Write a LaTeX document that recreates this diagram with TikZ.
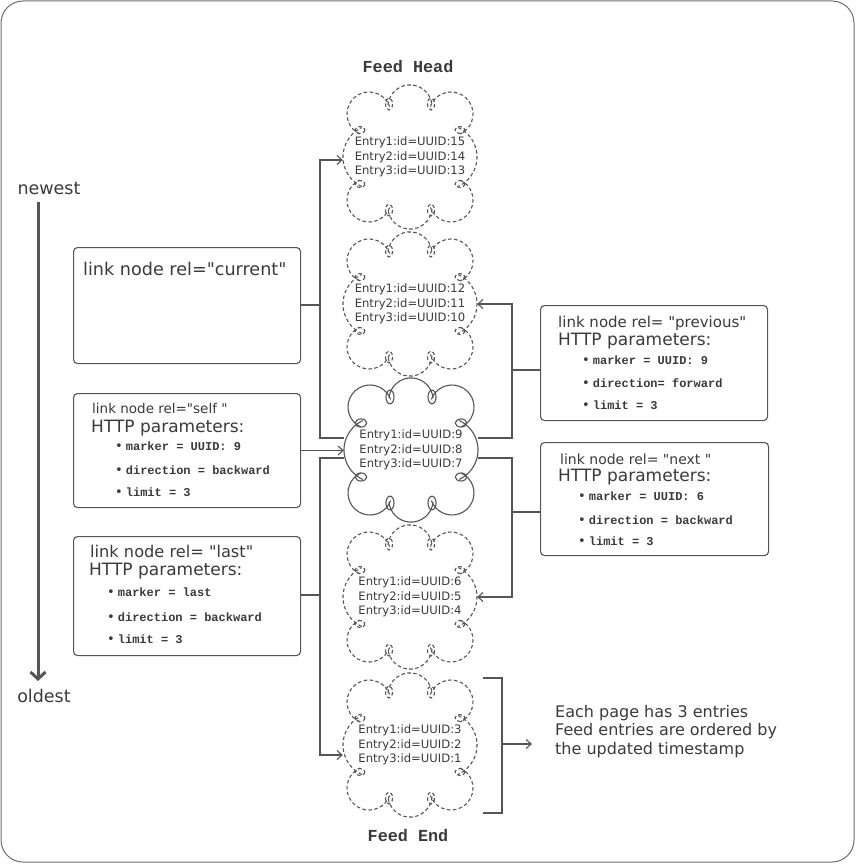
\documentclass[tikz,border=0pt]{standalone}
\usepackage{fontspec}
\setmainfont{DejaVu Sans}
\newfontfamily\handfont{DejaVu Sans}
\newfontfamily\codefont{Liberation Mono}
\usetikzlibrary{arrows.meta,calc}

\definecolor{ink}{HTML}{3A3A3A}
\definecolor{wire}{HTML}{555555}
\definecolor{framegray}{HTML}{6E6E6E}

% bullet followed by a bold monospace parameter
\newcommand{\bul}{{\handfont\fontsize{13}{14}\selectfont\textbullet}\hspace{3pt}}
\newcommand{\paramtext}[1]{{\codefont\bfseries\fontsize{12}{13}\selectfont #1}}

% cloud outline drawn around a named page node: #1 node, #2 line style, #3 loop scale
\newcommand{\pagecloud}[3]{%
  \begin{scope}[shift={(#1.center)}]
    \draw[cloudline,#2] (-41,-43) ++(115:22) arc[start angle=115,end angle=340,radius=22];
    \draw[cloudline,#2] (0,-50) ++(185:22.1) arc[start angle=185,end angle=355,radius=22.1];
    \draw[cloudline,#2] (41,-43) ++(200:22) arc[start angle=200,end angle=425,radius=22];
    \draw[cloudline,#2] (34.5,0) ++(-65:32.5) arc[start angle=-65,end angle=65,radius=32.5];
    \draw[cloudline,#2] (41,43) ++(-65:22) arc[start angle=-65,end angle=160,radius=22];
    \draw[cloudline,#2] (0,50) ++(5:22.1) arc[start angle=5,end angle=175,radius=22.1];
    \draw[cloudline,#2] (-41,43) ++(20:22) arc[start angle=20,end angle=245,radius=22];
    \draw[cloudline,#2] (-34.5,0) ++(115:32.5) arc[start angle=115,end angle=245,radius=32.5];
    % small pen loops where the lobes meet
    \draw[cloudline,#2] (-21,-53) ellipse[x radius=3.5*#3,y radius=6*#3];
    \draw[cloudline,#2] (21,-53) ellipse[x radius=3.5*#3,y radius=6*#3];
    \draw[cloudline,#2] (-21,53) ellipse[x radius=3.5*#3,y radius=6*#3];
    \draw[cloudline,#2] (21,53) ellipse[x radius=3.5*#3,y radius=6*#3];
    \draw[cloudline,#2] (-50,-27) ellipse[x radius=5*#3,y radius=3.5*#3];
    \draw[cloudline,#2] (50,-27) ellipse[x radius=5*#3,y radius=3.5*#3];
    \draw[cloudline,#2] (-50,27) ellipse[x radius=5*#3,y radius=3.5*#3];
    \draw[cloudline,#2] (50,27) ellipse[x radius=5*#3,y radius=3.5*#3];
  \end{scope}}

\tikzset{
  framebox/.style={draw=framegray,line width=1pt,rounded corners=22pt},
  wireline/.style={draw=wire,line width=1.1pt},
  arrowed/.style={wireline,-{Straight Barb[length=5pt,width=9pt]}},
  timeline/.style={draw=wire,line width=3pt,-{Straight Barb[length=7pt,width=15pt]}},
  cloudline/.style={draw=wire,line width=1.1pt},
  pagedash/.style={dash pattern=on 3.5pt off 2.5pt},
  pagesolid/.style={solid},
  cloudtext/.style={minimum width=134pt,minimum height=142pt,inner sep=0pt,align=center,
    text=ink,font=\handfont\fontsize{11.6}{14.3}\selectfont},
  linkbox/.style={draw=wire,line width=1.1pt,rounded corners=4pt,inner sep=0pt,anchor=north west},
  handline/.style={anchor=base west,inner sep=0pt,text=ink},
  titletext/.style={text=ink,font=\codefont\bfseries\fontsize{16.8}{20}\selectfont},
  sidetext/.style={text=ink,inner sep=0pt,font=\handfont\fontsize{17.5}{20}\selectfont},
}

\begin{document}
\begin{tikzpicture}[x=1pt,y=-1pt]
\useasboundingbox (0,0) rectangle (855,864);
\draw[framebox] (1,1) rectangle (854,862);

% titles
\node[titletext] (head) at (408,66) {Feed Head};
\node[titletext] (feedend) at (408,835) {Feed End};

% newest -> oldest time axis
\node[sidetext] (newest) at (49,188) {newest};
\node[sidetext] (oldest) at (44,696) {oldest};
\coordinate (tl) at (38,0);
\draw[timeline,shorten <=8pt,shorten >=8pt] (newest.south -| tl) -- (oldest.north -| tl);

% feed pages
\node[cloudtext] (c1) at (410,157) {Entry1:id=UUID:15\\Entry2:id=UUID:14\\Entry3:id=UUID:13};
\node[cloudtext] (c2) at (410,304) {Entry1:id=UUID:12\\Entry2:id=UUID:11\\Entry3:id=UUID:10};
\node[cloudtext] (c3) at (411,450) {Entry1:id=UUID:9\\Entry2:id=UUID:8\\Entry3:id=UUID:7};
\node[cloudtext] (c4) at (410,597) {Entry1:id=UUID:6\\Entry2:id=UUID:5\\Entry3:id=UUID:4};
\node[cloudtext] (c5) at (410,745) {Entry1:id=UUID:3\\Entry2:id=UUID:2\\Entry3:id=UUID:1};
\pagecloud{c1}{pagedash}{1}
\pagecloud{c2}{pagedash}{1}
\pagecloud{c3}{pagesolid}{1.15}
\pagecloud{c4}{pagedash}{1}
\pagecloud{c5}{pagedash}{1}

% link boxes, left side
\node[linkbox,minimum width=227pt,minimum height=116pt] (cur) at (73,247) {};
\node[handline,font=\handfont\fontsize{17.6}{19}\selectfont] at (83,275) {link node rel="current"};

\node[linkbox,minimum width=227pt,minimum height=114pt] (self) at (73,393) {};
\node[handline,font=\handfont\fontsize{13.5}{16}\selectfont] at (92,413) {link node rel="self "};
\node[handline,font=\handfont\fontsize{17}{19}\selectfont] at (91,432) {HTTP parameters:};
\node[handline] at (115,450) {\bul\paramtext{marker = UUID: 9}};
\node[handline] at (115,474) {\bul\paramtext{direction = backward}};
\node[handline] at (115,496) {\bul\paramtext{limit = 3}};

\node[linkbox,minimum width=227pt,minimum height=119pt] (last) at (73,536) {};
\node[handline,font=\handfont\fontsize{16.2}{18}\selectfont] at (90,557) {link node rel= "last"};
\node[handline,font=\handfont\fontsize{17}{19}\selectfont] at (89,575) {HTTP parameters:};
\node[handline] at (107,596) {\bul\paramtext{marker = last}};
\node[handline] at (107,621) {\bul\paramtext{direction = backward}};
\node[handline] at (107,643) {\bul\paramtext{limit = 3}};

% link boxes, right side
\node[linkbox,minimum width=227pt,minimum height=115pt] (prev) at (540,305) {};
\node[handline,font=\handfont\fontsize{15}{17}\selectfont] at (558,327) {link node rel= "previous"};
\node[handline,font=\handfont\fontsize{17}{19}\selectfont] at (558,345) {HTTP parameters:};
\node[handline] at (582,364) {\bul\paramtext{marker = UUID: 9}};
\node[handline] at (582,387) {\bul\paramtext{direction= forward}};
\node[handline] at (582,409) {\bul\paramtext{limit = 3}};

\node[linkbox,minimum width=228pt,minimum height=113pt] (next) at (540,442) {};
\node[handline,font=\handfont\fontsize{14}{16}\selectfont] at (560,464) {link node rel= "next "};
\node[handline,font=\handfont\fontsize{17}{19}\selectfont] at (558,481) {HTTP parameters:};
\node[handline] at (578,500) {\bul\paramtext{marker = UUID: 6}};
\node[handline] at (578,524) {\bul\paramtext{direction = backward}};
\node[handline] at (578,545) {\bul\paramtext{limit = 3}};

% bus junctions
\coordinate (cu) at (320,305);
\coordinate (la) at (320,595);
\coordinate (pr) at (512,370);
\coordinate (nx) at (512,512);

% current: page 3 back up to the feed head
\draw[arrowed] ([yshift=12pt]c3.west) -| (cu) |- ([yshift=-3pt]c1.west);
\draw[wireline] (cur.east |- cu) -- (cu);
% self
\draw[arrowed] (self.east) -- (self.east -| c3.west);
% last: page 3 down to the feed end
\draw[arrowed] ([yshift=-8pt]c3.west) -| (la) |- ([yshift=-10pt]c5.west);
\draw[wireline] (last.east |- la) -- (la);
% previous
\draw[arrowed] ([yshift=12pt]c3.east) -| (pr) |- (c2.east);
\draw[wireline] (prev.west |- pr) -- (pr);
% next
\draw[arrowed] ([yshift=-8pt]c3.east) -| (nx) |- (c4.east);
\draw[wireline] (next.west |- nx) -- (nx);

% bracket over the last page with its note
\coordinate (bt) at (502,678);
\coordinate (bb) at (502,813);
\coordinate (bm) at (502,744);
\coordinate (tip) at (532,744);
\draw[wireline] (483,678) -- (bt) -- (bb) -- (483,813);
\draw[arrowed] (bm) -- (tip);
\node[anchor=north west,inner sep=0pt,align=left,text=ink,
      font=\handfont\fontsize{16}{18.5}\selectfont] (note) at (555,705)
  {Each page has 3 entries\\Feed entries are ordered by\\the updated timestamp};
\end{tikzpicture}
\end{document}
